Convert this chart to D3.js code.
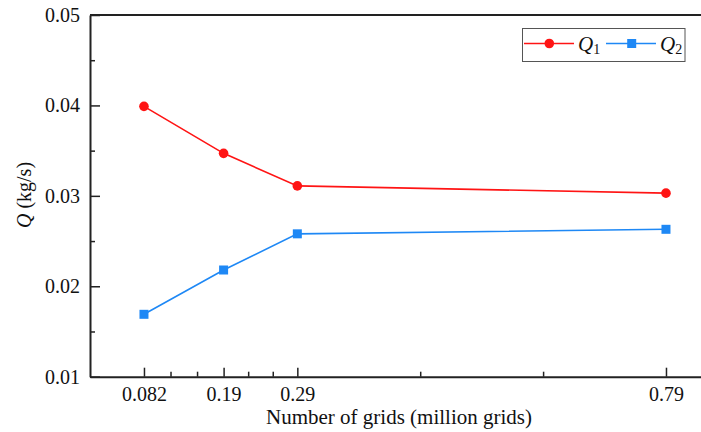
<!DOCTYPE html>
<html><head><meta charset="utf-8">
<script src="https://cdn.jsdelivr.net/npm/d3@7"></script>
<style>
html,body{margin:0;padding:0;background:#fff;}
text{font-family:"Liberation Serif","Times New Roman",serif;fill:#111;}
</style></head>
<body><svg id="c" width="701" height="432"></svg>
<script>
const grids = [0.082, 0.19, 0.29, 0.79];
const q1 = [0.0399, 0.0347, 0.0311, 0.0303];
const q2 = [0.0169, 0.0218, 0.0258, 0.0263];
const yTicks = [0.01, 0.02, 0.03, 0.04, 0.05];
const yMinor = [0.015, 0.025, 0.035, 0.045];
const xTickLabels = ["0.082", "0.19", "0.29", "0.79"];

const svg = d3.select("#c");
const x = d3.scaleLinear().domain([0.0088, 0.8375]).range([90, 701]);
const y = d3.scaleLinear().domain([0.01, 0.05]).range([376.7, 15]);

// minor x ticks: two between each pair of major ticks
const xMinor = [];
for (let i = 0; i < grids.length - 1; i++) {
  const a = grids[i], b = grids[i+1];
  xMinor.push(a + (b - a) / 3, a + 2 * (b - a) / 3);
}

// top border
svg.append("line").attr("x1", 90).attr("x2", 701).attr("y1", y(0.05)).attr("y2", y(0.05))
  .attr("stroke", "#222").attr("stroke-width", 2);

// x axis
const gx = svg.append("g").attr("transform", `translate(0,${y(0.01)})`)
  .call(d3.axisBottom(x).tickValues(grids).tickFormat((d, i) => xTickLabels[i])
    .tickSizeInner(-9).tickSizeOuter(0).tickPadding(10));
gx.append("g").call(d3.axisBottom(x).tickValues(xMinor).tickFormat("").tickSizeInner(-5).tickSizeOuter(0))
  .select(".domain").remove();

// y axis
const gy = svg.append("g").attr("transform", `translate(${x(0.0088)},0)`)
  .call(d3.axisLeft(y).tickValues(yTicks).tickFormat(d3.format(".2f"))
    .tickSizeInner(-10).tickSizeOuter(0).tickPadding(10));
gy.append("g").call(d3.axisLeft(y).tickValues(yMinor).tickFormat("").tickSizeInner(-5).tickSizeOuter(0))
  .select(".domain").remove();

svg.selectAll(".domain").attr("stroke", "#222").attr("stroke-width", 2);
svg.selectAll(".tick line").attr("stroke", "#222").attr("stroke-width", 1.5);
svg.selectAll(".tick text").style("font-family", '"Liberation Serif", serif').style("font-size", "20px").attr("fill", "#111");

// lines
const c1 = "#ff1414", c2 = "#1e88f5";
const line = d3.line().x(d => x(d[0])).y(d => y(d[1]));
svg.append("path").datum(grids.map((g, i) => [g, q1[i]])).attr("d", line)
  .attr("fill", "none").attr("stroke", c1).attr("stroke-width", 1.6);
svg.append("path").datum(grids.map((g, i) => [g, q2[i]])).attr("d", line)
  .attr("fill", "none").attr("stroke", c2).attr("stroke-width", 1.6);
svg.selectAll(".m1").data(grids).enter().append("circle")
  .attr("cx", d => x(d)).attr("cy", (d, i) => y(q1[i])).attr("r", 4.8).attr("fill", c1);
svg.selectAll(".m2").data(grids).enter().append("rect")
  .attr("x", d => x(d) - 4.5).attr("y", (d, i) => y(q2[i]) - 4.5).attr("width", 9).attr("height", 9).attr("fill", c2);

// legend
const lg = svg.append("g");
lg.append("rect").attr("x", 522.5).attr("y", 28.5).attr("width", 162.5).attr("height", 33)
  .attr("fill", "#fff").attr("stroke", "#555").attr("stroke-width", 1);
lg.append("line").attr("x1", 524).attr("x2", 574).attr("y1", 43.5).attr("y2", 43.5).attr("stroke", c1).attr("stroke-width", 1.6);
lg.append("circle").attr("cx", 549.3).attr("cy", 43.5).attr("r", 4.8).attr("fill", c1);
lg.append("line").attr("x1", 606).attr("x2", 656).attr("y1", 43.5).attr("y2", 43.5).attr("stroke", c2).attr("stroke-width", 1.6);
lg.append("rect").attr("x", 627.2).attr("y", 39).attr("width", 9).attr("height", 9).attr("fill", c2);
const t1 = lg.append("text").attr("x", 578).attr("y", 51).style("font-size", "21px");
t1.append("tspan").style("font-style", "italic").text("Q");
t1.append("tspan").attr("dy", 3).style("font-size", "14px").text("1");
const t2 = lg.append("text").attr("x", 660).attr("y", 51).style("font-size", "21px");
t2.append("tspan").style("font-style", "italic").text("Q");
t2.append("tspan").attr("dy", 3).style("font-size", "14px").text("2");

// axis titles
svg.append("text").attr("x", 399).attr("y", 424).attr("text-anchor", "middle").style("font-size", "20px")
  .attr("textLength", 266).attr("lengthAdjust", "spacingAndGlyphs")
  .text("Number of grids (million grids)");
const yt = svg.append("text").attr("transform", "translate(31,195) rotate(-90)").attr("text-anchor", "middle").style("font-size", "20px");
yt.append("tspan").style("font-style", "italic").text("Q");
yt.append("tspan").text(" (kg/s)");
</script></body></html>
